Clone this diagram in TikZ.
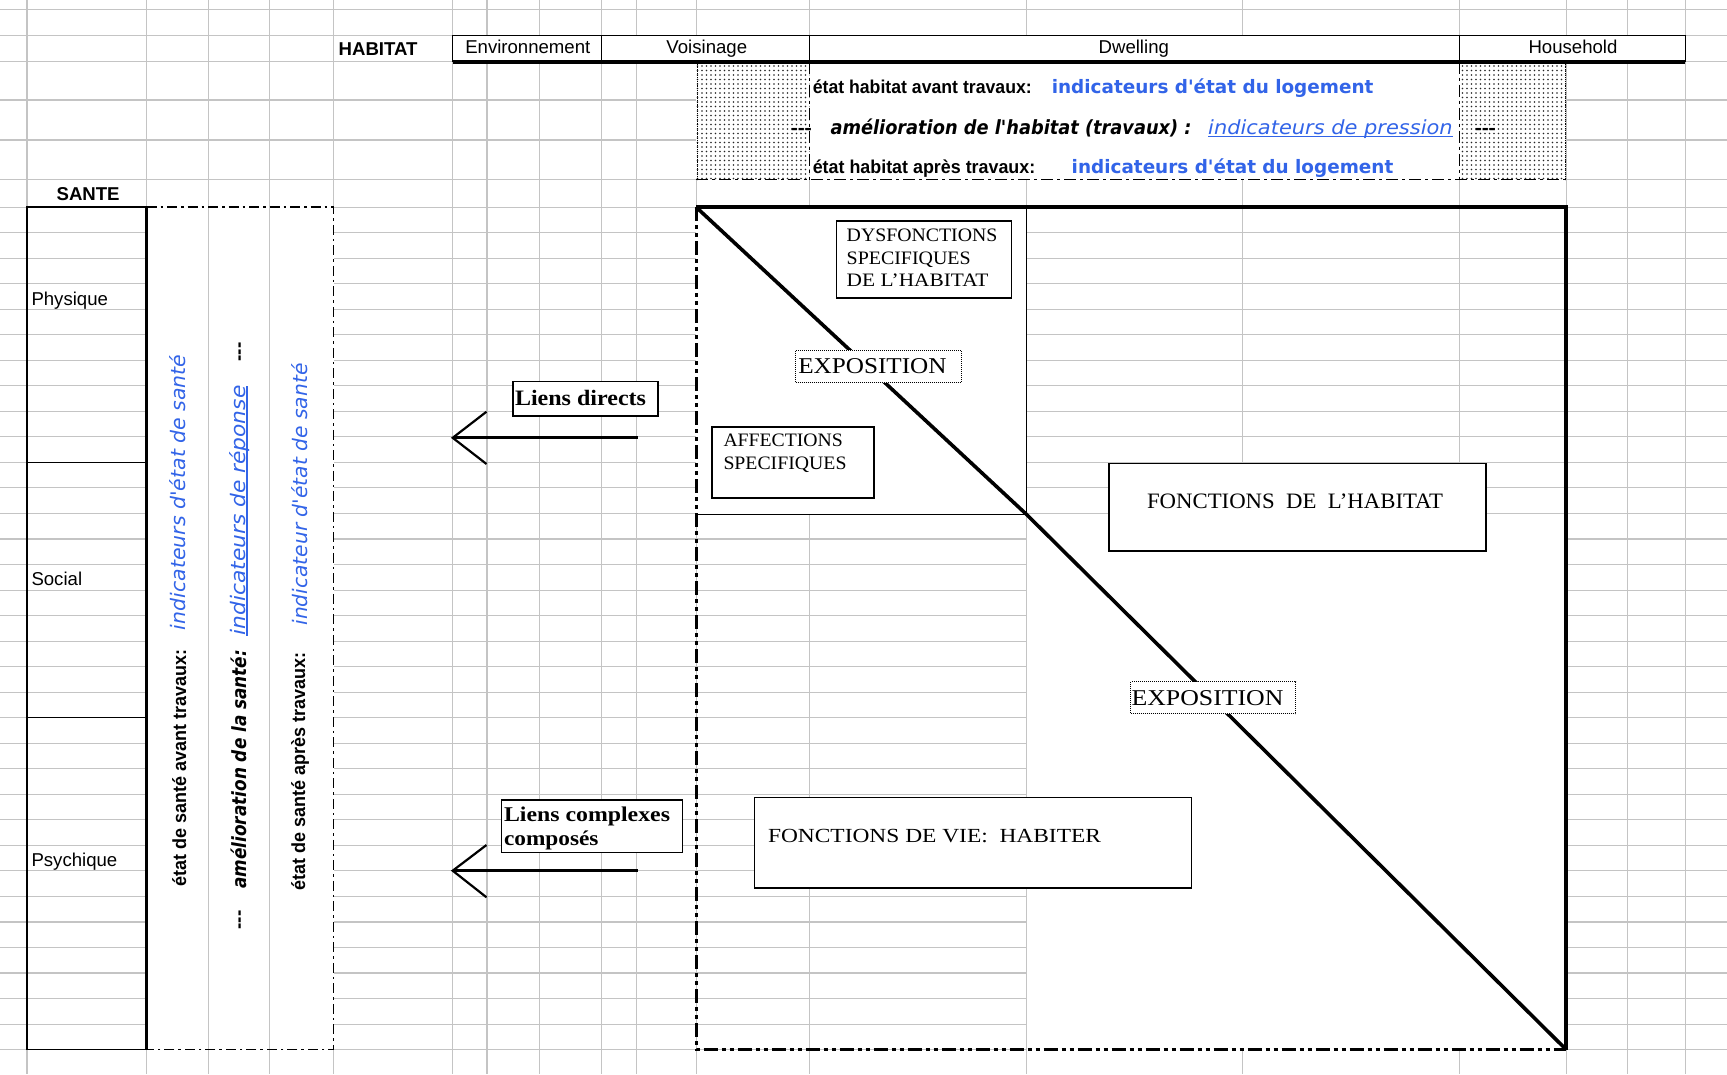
\documentclass[tikz,border=0pt]{standalone}
\usepackage{fontspec}
\usepackage{graphicx}
\usetikzlibrary{patterns.meta}
\newfontfamily\fa{Liberation Sans}
\newfontfamily\fs{Liberation Serif}
\newfontfamily\fv{DejaVu Sans}
\definecolor{ind}{RGB}{50,100,232}
\definecolor{gridc}{RGB}{196,196,196}
\newcommand\fitw[2]{\resizebox{#1pt}{\height}{#2}}
\newcommand\fsz[1]{\fontsize{#1}{#1}\selectfont}
\newsavebox\ulbox
\newcommand\ulx[1]{\sbox\ulbox{#1}\rlap{\usebox\ulbox}\rule[-2.8pt]{\wd\ulbox}{1.4pt}}
\newcommand\apos{\textquotesingle}
\begin{document}
\begin{tikzpicture}[x=1pt,y=-1pt,
  every node/.style={inner sep=0pt,outer sep=0pt},
  gridln/.style={draw=gridc,line width=1.1pt},
  blk/.style={draw=black,line width=1.3pt},
  heavy/.style={draw=black,line width=3.6pt},
  ddot/.style={draw=black,line width=3pt,dash pattern=on 14pt off 4pt on 4pt off 4pt on 4pt off 4pt},
  dsante/.style={draw=black,line width=1.5pt,dash pattern=on 10pt off 4pt on 2.5pt off 4pt},
  dpanel/.style={draw=black,line width=1.2pt,dash pattern=on 12pt off 4pt on 3pt off 4pt},
  box/.style={draw=black,fill=white,line width=1.3pt,anchor=north west},
  dbox/.style={draw=black,fill=white,line width=1pt,densely dotted,anchor=north west},
  dotarea/.style={pattern={Dots[distance=4.5pt,radius=0.8pt]},pattern color=black!85},
  lbl/.style={anchor=base west},
  vtx/.style={anchor=base,rotate=90}
]
\fill[white] (0,0) rectangle (1727,1074);
\useasboundingbox (0,0) rectangle (1727,1074);

% grid
\foreach \x in {27,146.5,208.2,269.8,333.7,452.7,487,539.7,601.4,636.6,696.1,809.5,1026.5,1242.4,1459.4,1566.2,1627.9,1685.1}
  \draw[gridln] (\x,0) -- (\x,1074);
\foreach \y in {9.5,35.2,61.7,100,140,179.5}
  \draw[gridln] (0,\y) -- (1727,\y);
\foreach \k in {0,...,33}
  \draw[gridln] (0,{207.1+25.53*\k}) -- (1727,{207.1+25.53*\k});

% white areas
\fill[white] (452.7,35.2) rectangle (1685.1,61.7);
\fill[white] (809.5,61.7) rectangle (1459.4,179.5);
\fill[white] (146.5,207.1) rectangle (333.7,1049.6);
\draw[gridln] (208.2,207.1) -- (208.2,1049.6);
\draw[gridln] (269.8,207.1) -- (269.8,1049.6);
\fill[white] (696.1,207.1) rectangle (1026.5,514.4);
\fill[white] (1026.5,514.4) rectangle (1566.2,1049.6);

% dotted areas
\fill[white] (696.1,61.7) rectangle (809.5,179.5);
\fill[dotarea] (696.1,61.7) rectangle (809.5,179.5);
\fill[white] (1459.4,61.7) rectangle (1566.2,179.5);
\fill[dotarea] (1459.4,61.7) rectangle (1566.2,179.5);
\draw[densely dotted,line width=0.9pt] (697,61.7) -- (697,179.5);
\draw[densely dotted,line width=0.9pt] (1565.5,61.7) -- (1565.5,179.5);

% header
\draw[blk,line width=1.2pt] (452.7,61.7) -- (452.7,35.2) -- (1685.1,35.2) -- (1685.1,61.7);
\foreach \x in {601.4,809.5,1459.4} \draw[blk,line width=1.2pt] (\x,35.2) -- (\x,61.7);
\draw[line width=3.8pt] (452.7,61.7) -- (1685.1,61.7);
\node[anchor=base] (henv) at (527.8,53.6) {\fa\fsz{18.6}Environnement};
\node[anchor=base] (hvois) at (706.8,53.6) {\fa\fsz{18.6}Voisinage};
\node[anchor=base] (hdwel) at (1133.8,53.6) {\fa\fsz{18.6}Dwelling};
\node[anchor=base] (hhouse) at (1573,53.6) {\fa\fsz{18.6}Household};
\node[lbl] (habitat) at (338.7,55) {\fa\bfseries\fsz{18.6}HABITAT};
\node[lbl] (sante) at (56.6,200.8) {\fa\bfseries\fsz{18.6}SANTE};

% top panel
\draw[dpanel] (809.5,61.7) -- (809.5,179.5);
\draw[dpanel] (1459.4,61.7) -- (1459.4,179.5);
\draw[dpanel] (696.1,179.5) -- (1566.2,179.5);
\node[lbl] (t1a) at (812.8,93) {\fitw{219}{\fa\bfseries\fsz{18.6}état habitat avant travaux:}};
\node[lbl] (t1b) at (1051.8,93) {\fitw{321.6}{\color{ind}\fv\bfseries\fsz{18.5}indicateurs d\apos état du logement}};
\node[lbl] (t2d) at (790.8,134.5) {\fitw{21}{\fa\bfseries\fsz{19}-{}-{}-}};
\node[lbl] (t2a) at (830.5,134.5) {\fitw{361}{\fv\bfseries\itshape\fsz{19.5}amélioration de l\apos habitat (travaux) :}};
\node[lbl] (t2b) at (1208.2,134.5) {\fitw{244.5}{\color{ind}\fv\itshape\fsz{19.5}\ulx{indicateurs de pression}}};
\node[lbl] (t2e) at (1474.8,134.5) {\fitw{21}{\fa\bfseries\fsz{19}-{}-{}-}};
\node[lbl] (t3a) at (812.8,173) {\fitw{222.5}{\fa\bfseries\fsz{18.6}état habitat après travaux:}};
\node[lbl] (t3b) at (1071.7,173) {\fitw{321.6}{\color{ind}\fv\bfseries\fsz{18.5}indicateurs d\apos état du logement}};

% left table
\draw[blk] (146.5,207.1) -- (27,207.1) -- (27,1049.6) -- (146.5,1049.6);
\draw[blk] (27,462.4) -- (146.5,462.4);
\draw[blk] (27,717.7) -- (146.5,717.7);
\draw[line width=3.5pt] (146.5,207.1) -- (146.5,1049.6);
\node[lbl] (phys) at (31.5,305) {\fa\fsz{18.6}Physique};
\node[lbl] (soc) at (31.5,585.5) {\fa\fsz{18.6}Social};
\node[lbl] (psy) at (31.5,866) {\fa\fsz{18.6}Psychique};

% sante dash box
\draw[dsante] (146.5,207.1) -- (333.7,207.1) -- (333.7,1049.6) -- (146.5,1049.6);
\node[vtx] (v1a) at (186,768.2) {\fitw{236.8}{\fa\bfseries\fsz{19}état de santé avant travaux:}};
\node[vtx] (v1b) at (185,492.3) {\fitw{275.4}{\color{ind}\fv\itshape\fsz{20}indicateurs d\apos état de santé}};
\node[vtx] (v2a) at (246.5,769.3) {\fitw{239}{\fv\bfseries\itshape\fsz{19.5}amélioration de la santé:}};
\node[vtx] (v2b) at (245,510.5) {\fitw{250}{\color{ind}\fv\itshape\fsz{20}\ulx{indicateurs de réponse}}};
\node[vtx] (v2c) at (244.5,920) {\fa\bfseries\fsz{19}-{}-{}-};
\node[vtx] (v2d) at (244.5,352) {\fa\bfseries\fsz{19}-{}-{}-};
\node[vtx] (v3a) at (305,771) {\fitw{238}{\fa\bfseries\fsz{19}état de santé après travaux:}};
\node[vtx] (v3b) at (307,494.5) {\fitw{262}{\color{ind}\fv\itshape\fsz{20}indicateur d\apos état de santé}};

% main square
\draw[ddot] (696.1,207.1) -- (696.1,1049.6) -- (1566.2,1049.6);
\draw[heavy] (696.1,207.1) -- (1566.2,207.1) -- (1566.2,1049.6);
\draw[line width=1.5pt] (1026.5,207.1) -- (1026.5,514.4) -- (696.1,514.4);
\draw[heavy] (696.1,207.1) -- (1026.5,514.4) -- (1566.2,1049.6);

% boxes
\node[box,minimum width=174.5pt,minimum height=77pt] (dys) at (836.7,221) {};
\node[lbl] (dys1) at (846.7,241) {\fitw{150.7}{\fs\fsz{19}DYSFONCTIONS}};
\node[lbl] (dys2) at (846.7,264) {\fitw{124}{\fs\fsz{19}SPECIFIQUES}};
\node[lbl] (dys3) at (846.7,286.7) {\fitw{141.7}{\fs\fsz{19}DE L’HABITAT}};

\node[dbox,minimum width=165.3pt,minimum height=32.5pt] (expo1) at (795.7,350) {};
\node[lbl] (expo1t) at (798.3,373.3) {\fitw{148.3}{\fs\fsz{22.6}EXPOSITION}};

\node[box,minimum width=162pt,minimum height=71pt] (aff) at (712,427) {};
\node[lbl] (aff1) at (723.5,446) {\fitw{119.4}{\fs\fsz{19}AFFECTIONS}};
\node[lbl] (aff2) at (723.5,469.3) {\fitw{123}{\fs\fsz{19}SPECIFIQUES}};

\node[box,minimum width=377pt,minimum height=87.3pt] (fhab) at (1109,463.7) {};
\node[lbl] (fhabt) at (1147,508.3) {\fitw{296}{\fs\fsz{22}FONCTIONS\ \ DE\ \ L’HABITAT}};

\node[dbox,minimum width=165pt,minimum height=32pt] (expo2) at (1130.5,681.8) {};
\node[lbl] (expo2t) at (1131.5,705) {\fitw{152}{\fs\fsz{22.6}EXPOSITION}};

\node[box,minimum width=437.2pt,minimum height=90.5pt] (fvie) at (754.5,797.4) {};
\node[lbl] (fviet) at (768,842.7) {\fitw{333}{\fs\fsz{20}FONCTIONS DE VIE:\ \ HABITER}};

\node[box,minimum width=145pt,minimum height=34.3pt] (ld) at (513,381.7) {};
\node[lbl] (ldt) at (515,405) {\fitw{131}{\fs\bfseries\fsz{22}Liens directs}};

\node[box,minimum width=181pt,minimum height=52.6pt] (lc) at (501.6,800) {};
\node[lbl] (lc1) at (504,821.8) {\fitw{166}{\fs\bfseries\fsz{21}Liens complexes}};
\node[lbl] (lc2) at (504,845.5) {\fitw{94.5}{\fs\bfseries\fsz{21}composés}};

% arrows
\coordinate (a1s) at (637.5,437.8);
\coordinate (a1e) at (452.7,437.8);
\coordinate (a1u) at (486.5,411.7);
\coordinate (a1d) at (486.5,464);
\draw[line width=2.8pt] (a1s) -- (a1e);
\draw[line width=2.2pt] (a1u) -- (a1e) -- (a1d);
\coordinate (a2s) at (637.5,870.7);
\coordinate (a2e) at (452.7,870.7);
\coordinate (a2u) at (486.5,845);
\coordinate (a2d) at (486.5,897.3);
\draw[line width=2.8pt] (a2s) -- (a2e);
\draw[line width=2.2pt] (a2u) -- (a2e) -- (a2d);
\end{tikzpicture}
\end{document}
